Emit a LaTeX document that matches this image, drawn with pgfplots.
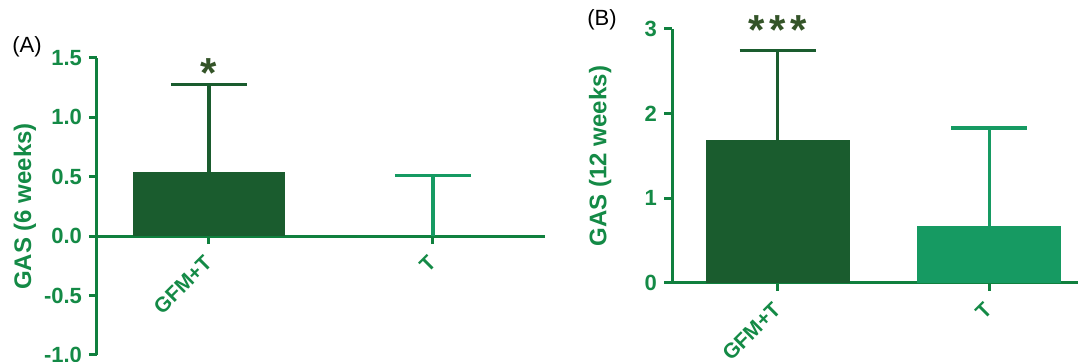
\documentclass[border=0pt]{standalone}
\usepackage{fontspec}
\setmainfont{Liberation Sans}
\usepackage{pgfplots}
\pgfplotsset{compat=1.18}
\definecolor{darkbar}{RGB}{26,92,46}
\definecolor{lightbar}{RGB}{22,154,98}
\definecolor{axgreen}{RGB}{16,128,62}
\definecolor{txtgreen}{RGB}{20,138,70}
\definecolor{stargreen}{RGB}{52,84,40}
\pgfplotsset{
  gasstyle/.style={
    scale only axis,
    axis y line=left,
    x axis line style={axgreen, line width=1.5pt, -},
    y axis line style={axgreen, line width=1.5pt, -},
    tick style={axgreen, line width=1.5pt},
    major tick length=4pt,
    xtick={0,1}, xticklabels={GFM+T,T},
    xmin=-0.5,
    /pgf/number format/assume math mode=true,
    ticklabel style={font=\fontsize{11}{11}\selectfont\bfseries, text=txtgreen},
    xticklabel style={yshift=-5pt, xshift=2pt, rotate=45, anchor=east, font=\fontsize{10.5}{10.5}\selectfont\bfseries},
    ylabel style={font=\fontsize{12}{12}\selectfont\bfseries, text=txtgreen, anchor=center},
    clip=false,
  },
  gasbar/.style 2 args={ybar, bar width=0.68, bar shift=0pt, fill=#1, draw=none,
    error bars/.cd, y dir=plus, y explicit,
    error bar style={line width=1.6pt, color=#2},
    error mark options={rotate=90, mark size=19pt, line width=1.6pt, color=#2}},
}
\begin{document}
\begin{tikzpicture}
\useasboundingbox (0,0) rectangle (542pt,181pt);
\node[font=\fontsize{11}{11}\selectfont] at (13.5pt,157.5pt) {(A)};
\node[font=\fontsize{11}{11}\selectfont] at (301pt,171pt) {(B)};
\begin{axis}[gasstyle,
  at={(48.5pt,3.5pt)}, anchor=south west,
  width=224pt, height=148.5pt,
  axis x line=middle, tick align=outside,
  x axis line style={-}, y axis line style={-},
  xmax=1.5, ymin=-1, ymax=1.5,
  ytick={-1,-0.5,0,0.5,1,1.5},
  yticklabels={-1.0,-0.5,0.0,0.5,1.0,1.5},
  ylabel={GAS (6 weeks)},
  ylabel style={at={(axis description cs:-0.161,0.5)}},
]
\addplot[gasbar={darkbar}{darkbar}] coordinates {(0,0.54) +- (0,0.74)};
\addplot[gasbar={lightbar}{lightbar}] coordinates {(1,0) +- (0,0.51)};
\node[stargreen, font=\fontsize{21}{21}\selectfont\bfseries, anchor=north, inner sep=0pt] at (axis cs:0,1.5) {*};
\end{axis}
\begin{axis}[gasstyle,
  at={(336pt,39.5pt)}, anchor=south west,
  width=203pt, height=127pt,
  axis x line=bottom, tick align=outside,
  x axis line style={-}, y axis line style={-},
  xmax=1.42, ymin=0, ymax=3,
  ytick={0,1,2,3},
  ylabel={GAS (12 weeks)},
  ylabel style={at={(axis description cs:-0.177,0.5)}},
]
\addplot[gasbar={darkbar}{darkbar}] coordinates {(0,1.69) +- (0,1.06)};
\addplot[gasbar={lightbar}{lightbar}] coordinates {(1,0.67) +- (0,1.16)};
\node[stargreen, font=\fontsize{21}{21}\selectfont\bfseries, anchor=north, inner sep=0pt] at (axis cs:0,3.16) {*\hspace{2.5pt}*\hspace{2.5pt}*};
\end{axis}
\end{tikzpicture}
\end{document}
